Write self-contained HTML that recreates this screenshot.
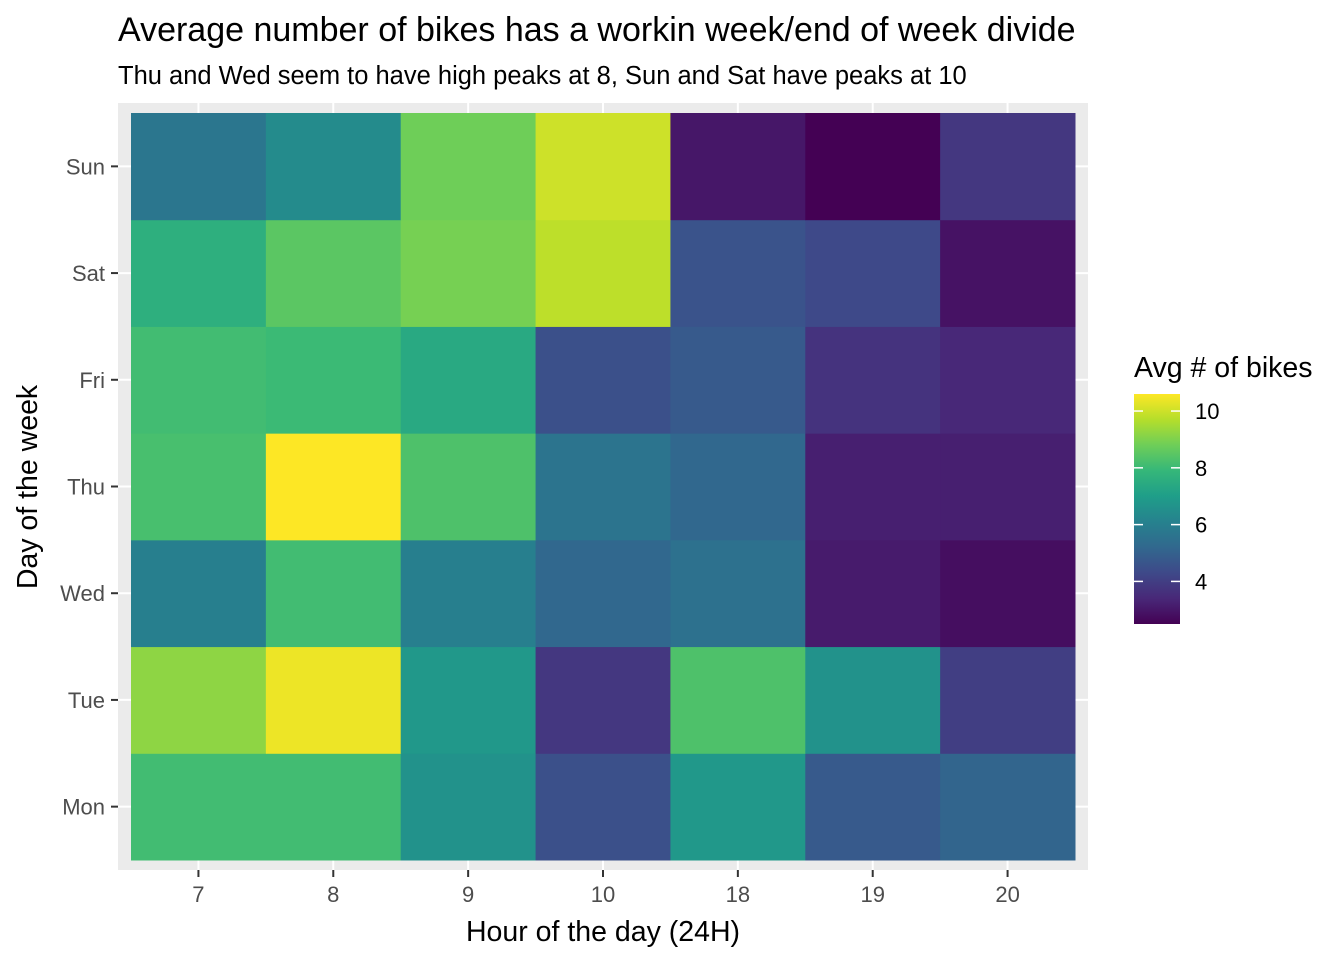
<!DOCTYPE html>
<html><head><meta charset="utf-8"><style>
body{margin:0;background:#fff;}
svg{display:block;font-family:"Liberation Sans",Arial,sans-serif;}
</style></head><body>
<svg id="chart" width="1344" height="960" viewBox="0 0 1344 960">
<text x="118" y="41" font-size="34" fill="#000">Average number of bikes has a workin week/end of week divide</text>
<text x="118" y="84" font-size="25.5" fill="#000">Thu and Wed seem to have high peaks at 8, Sun and Sat have peaks at 10</text>
<rect x="118" y="103" width="970" height="767" fill="#ebebeb"/>
<g id="grid"></g><g id="tiles"></g><g id="axes"></g><g id="legend"></g>
<text x="603" y="941" font-size="28.5" text-anchor="middle" fill="#000">Hour of the day (24H)</text>
<text transform="translate(37,487) rotate(-90)" font-size="28.5" text-anchor="middle" fill="#000">Day of the week</text>
<text x="1134" y="377" font-size="28.5" fill="#000">Avg # of bikes</text>
</svg>
<script>
const hours = ["7","8","9","10","18","19","20"];
const days = ["Mon","Tue","Wed","Thu","Fri","Sat","Sun"];
const valMon = [8.1, 8.1, 6.6, 4.5, 6.8, 4.8, 5.1];
const valTue = [9.2, 10.4, 6.8, 3.8, 8.3, 6.6, 4.0];
const valWed = [6.0, 8.1, 6.0, 5.2, 5.5, 3.1, 2.8];
const valThu = [8.2, 10.6, 8.3, 5.6, 5.2, 3.2, 3.2];
const valFri = [8.1, 8.0, 7.4, 4.5, 4.8, 3.7, 3.4];
const valSat = [7.6, 8.5, 8.9, 9.8, 4.6, 4.3, 2.9];
const valSun = [5.7, 6.4, 8.8, 10.0, 3.0, 2.5, 3.8];
const legendTicks = [4, 6, 8, 10];

const rows = [valMon, valTue, valWed, valThu, valFri, valSat, valSun];
const NS = "http://www.w3.org/2000/svg";
const vir = ["#440154","#482878","#3e4989","#31688e","#26828e","#1f9e89","#35b779","#6ece58","#b5de2b","#fde725"];
function hex(h){return [1,3,5].map(i=>parseInt(h.substr(i,2),16));}
function viridis(t){t=Math.max(0,Math.min(1,t));const p=t*(vir.length-1),i=Math.min(Math.floor(p),vir.length-2),f=p-i;const a=hex(vir[i]),b=hex(vir[i+1]);return "rgb("+a.map((c,k)=>Math.round(c+(b[k]-c)*f)).join(",")+")";}
const all = rows.flat(); const vmin = Math.min(...all), vmax = Math.max(...all);
const x0=131, x1=1075, y0=113, y1=860;
const cw=(x1-x0)/hours.length, rh=(y1-y0)/days.length;
const xPos=i=>x0+cw*i, yPos=j=>y1-rh*(j+1);
function el(tag,attrs,parent,txt){const e=document.createElementNS(NS,tag);for(const k in attrs)e.setAttribute(k,attrs[k]);if(txt!==undefined)e.textContent=txt;parent.appendChild(e);return e;}
const grid=document.getElementById("grid"), tiles=document.getElementById("tiles"), axes=document.getElementById("axes"), leg=document.getElementById("legend");
hours.forEach((h,i)=>{const cx=xPos(i)+cw/2;
 const g=el("line",{x1:cx,x2:cx,y1:103,y2:870,stroke:"#fff","stroke-width":2},grid);
 
 
 const t=el("line",{x1:cx,x2:cx,y1:870,y2:877,stroke:"#333","stroke-width":2},axes);
 
 
 const l=el("text",{x:cx,y:902,"font-size":22,"text-anchor":"middle",fill:"#4d4d4d"},axes,h);
 
 
});
days.forEach((d,j)=>{const cy=yPos(j)+rh/2;
 const g=el("line",{x1:118,x2:1088,y1:cy,y2:cy,stroke:"#fff","stroke-width":2},grid);
 
 
 const t=el("line",{x1:111,x2:118,y1:cy,y2:cy,stroke:"#333","stroke-width":2},axes);
 
 
 const l=el("text",{x:105,y:cy+8,"font-size":22,"text-anchor":"end",fill:"#4d4d4d"},axes,d);
 
 
 rows[j].forEach((v,i)=>{
  const r=el("rect",{x:xPos(i),y:yPos(j),width:cw+0.5,height:rh+0.5,fill:viridis((v-vmin)/(vmax-vmin))},tiles);
  
  
 });
});
const lx=1134,lw=46,ly0=394,ly1=624;
const defs=el("defs",{},leg);
const grad=el("linearGradient",{id:"vg",x1:0,y1:1,x2:0,y2:0},defs);
vir.forEach((c,i)=>el("stop",{offset:i/(vir.length-1),"stop-color":c},grad));
const bar=el("rect",{x:lx,y:ly0,width:lw,height:ly1-ly0,fill:"url(#vg)"},leg);


const ly=v=>ly1-(v-vmin)/(vmax-vmin)*(ly1-ly0);
legendTicks.forEach(v=>{const y=ly(v);
 el("line",{x1:lx,x2:lx+9,y1:y,y2:y,stroke:"#fff","stroke-width":1.5},leg);
 el("line",{x1:lx+lw-9,x2:lx+lw,y1:y,y2:y,stroke:"#fff","stroke-width":1.5},leg);
 const l=el("text",{x:1195,y:y+8,"font-size":22,fill:"#000"},leg,String(v));
 
 
});
</script>
</body></html>
